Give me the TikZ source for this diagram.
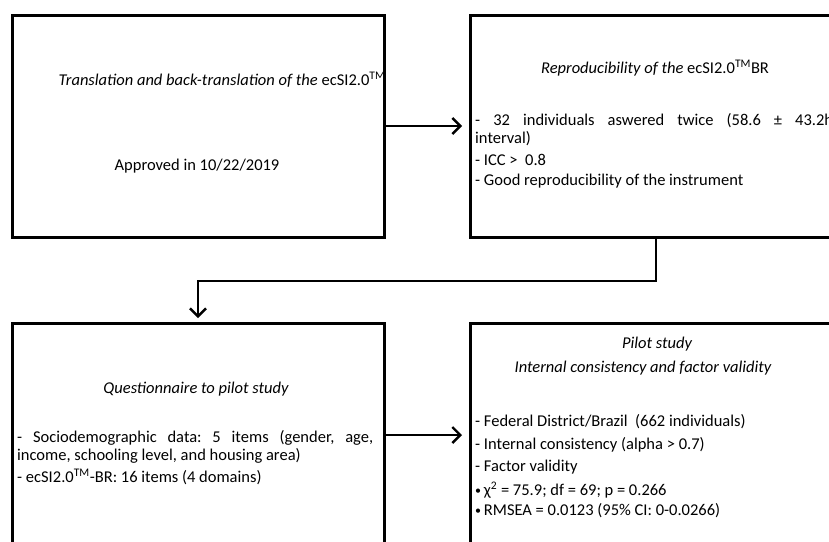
\documentclass[tikz,border=0pt]{standalone}
\usepackage{fontspec}
\setmainfont{Carlito}
\usetikzlibrary{arrows.meta}
\frenchspacing
\newcommand{\smallbul}{\raisebox{1.2pt}{\fontsize{12}{12}\selectfont\textbullet}\,}
\begin{document}
\begin{tikzpicture}[x=1pt,y=-1pt,
  box/.style={draw, line width=3pt, rectangle, inner sep=0pt, minimum width=372pt},
  conn/.style={line width=2pt, -{Straight Barb[length=8pt,width=16pt,line width=2.4pt]}},
  txt/.style={inner sep=0pt, anchor=base, font=\fontsize{16.5}{18}\selectfont},
  para/.style={inner sep=0pt, anchor=base west, font=\fontsize{16.5}{18}\selectfont\frenchspacing, text width=#1, align=justify}
]
\useasboundingbox (0,0) rectangle (829,541);
\clip (0,0) rectangle (829,541);
% boxes
\node[box, minimum height=222pt] (b1) at (198,126) {};
\node[box, minimum height=222pt] (b2) at (656,126) {};
\node[box, minimum height=224pt] (b3) at (198,435) {};
\node[box, minimum height=224pt] (b4) at (656,435) {};
% box 1 text
\node[txt] (t1a) at (222,85.5) {{\itshape Translation and back-translation of the} ecSI2.0\textsuperscript{TM}};
\node[txt] (t1b) at (197,170.5) {Approved in 10/22/2019};
% box 2 text
\node[txt] (t2a) at (655,73.5) {{\itshape Reproducibility of the} ecSI2.0\textsuperscript{TM}BR};
\node[para=358pt] (t2b) at (475,125.5) {- 32 individuals aswered twice (58.6 ± 43.2h\linebreak interval)};
\node[para=358pt] (t2c) at (475,165.5) {- ICC >\ \ 0.8};
\node[para=358pt] (t2d) at (475,185.5) {- Good reproducibility of the instrument};
% box 3 text
\node[txt] (t3a) at (196,393.5) {\itshape Questionnaire to pilot study};
\node[para=356pt] (t3b) at (17,442.5) {- Sociodemographic data: 5 items (gender, age,\linebreak income, schooling level, and housing area)};
\node[para=356pt] (t3c) at (17,482.5) {- ecSI2.0\textsuperscript{TM}-BR: 16 items (4 domains)};
% box 4 text
\node[txt] (t4a) at (657,348.5) {\itshape Pilot study};
\node[txt] (t4b) at (643,372.5) {\itshape Internal consistency and factor validity};
\node[para=350pt] (t4c) at (475,426.5) {- Federal District/Brazil\ \ (662 individuals)};
\node[para=350pt] (t4d) at (475,449.5) {- Internal consistency (alpha > 0.7)};
\node[para=350pt] (t4e) at (475,471.5) {- Factor validity};
\node[para=350pt] (t4f) at (475,495.5) {\smallbul χ\textsuperscript{2} = 75.9; df = 69; p = 0.266};
\node[para=350pt] (t4g) at (475,515.5) {\smallbul RMSEA = 0.0123 (95\% CI: 0-0.0266)};
% connectors
\coordinate (elbow) at (198,281);
\draw[conn, shorten >=6.5pt] (b1.east) -- (b2.west);
\draw[conn, shorten >=3.5pt] (b2.south) |- (elbow) -- (b3.north);
\draw[conn, shorten >=6.5pt] (b3.east) -- (b4.west);
\end{tikzpicture}
\end{document}
